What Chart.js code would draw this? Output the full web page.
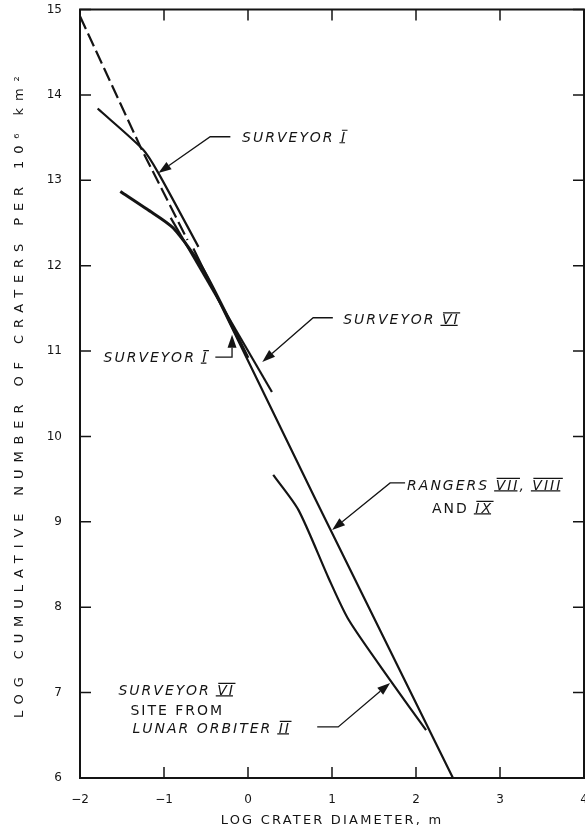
<!DOCTYPE html>
<html>
<head>
<meta charset="utf-8">
<script src="https://cdn.jsdelivr.net/npm/chart.js@4.4.1/dist/chart.umd.min.js"></script>
<style>
  html, body { margin: 0; padding: 0; background: #fff; }
  #wrap { width: 585px; height: 828px; }
</style>
</head>
<body>
<div id="wrap"><canvas id="crater-chart"></canvas></div>
<script>
// log crater diameter (m) against log cumulative number of craters per 10^6 km^2
var xTickLabels = ['\u22122', '\u22121', '0', '1', '2', '3', '4'];
var yTickLabels = ['6', '7', '8', '9', '10', '11', '12', '13', '14', '15'];

// dashed extrapolation at the top left
var dashX = [-2.0, -1.28, -0.72];
var dashY = [14.92, 13.39, 12.3];

// Surveyor I, upper curve
var surv1aX = [-1.79, -1.25, -1.07, -0.59];
var surv1aY = [13.84, 13.36, 13.09, 12.22];

// Surveyor I, lower (heavy) curve
var surv1bX = [-1.52, -1.2, -0.89, -0.53, 0.0];
var surv1bY = [12.87, 12.66, 12.44, 11.95, 10.92];

// Surveyor VI
var surv6X = [-0.92, 0.285];
var surv6Y = [12.56, 10.52];

// Rangers VII, VIII and IX
var rangerX = [-0.65, 0.8, 2.44];
var rangerY = [12.2, 9.27, 6.0];

// Surveyor VI site from Lunar Orbiter II
var orbiterX = [0.30, 0.60, 0.96, 1.20, 1.69, 2.12];
var orbiterY = [9.55, 9.14, 8.34, 7.85, 7.15, 6.56];

var FONT = '"DejaVu Sans", "Liberation Sans", sans-serif';
var INK = '#141414';

function pts(xs, ys) {
  return xs.map(function (v, i) { return { x: v, y: ys[i] }; });
}

// labels with leader arrows, in data units
// style: i = italic, u = upright, r = roman numeral (italic, barred)
var notes = [
  { lines: [{ x: -0.07, y: 13.51, parts: [['SURVEYOR ', 'i'], ['I', 'r']] }],
    leader: [[-0.21, 13.51], [-0.45, 13.51]], tip: [-1.067, 13.085] },
  { lines: [{ x: 1.133, y: 11.37, parts: [['SURVEYOR ', 'i'], ['VI', 'r']] }],
    leader: [[1.01, 11.39], [0.776, 11.39]], tip: [0.17, 10.872] },
  { lines: [{ x: -1.72, y: 10.93, parts: [['SURVEYOR ', 'i'], ['I', 'r']] }],
    leader: [[-0.389, 10.93], [-0.19, 10.93]], tip: [-0.19, 11.19] },
  { lines: [{ x: 1.894, y: 9.432, parts: [['RANGERS ', 'i'], ['VII', 'r'], [', ', 'i'], ['VIII', 'r']] },
            { x: 2.191, y: 9.163, parts: [['AND ', 'u'], ['IX', 'r']] }],
    leader: [[1.87, 9.456], [1.692, 9.456]], tip: [1.002, 8.905] },
  { lines: [{ x: -1.542, y: 7.032, parts: [['SURVEYOR ', 'i'], ['VI', 'r']] },
            { x: -1.40, y: 6.798, parts: [['SITE FROM', 'u']] },
            { x: -1.376, y: 6.587, parts: [['LUNAR ORBITER ', 'i'], ['II', 'r']] }],
    leader: [[0.824, 6.598], [1.074, 6.598]], tip: [1.692, 7.114] }
];

var titleSpacing = { x: '2.2px', y: '6.9px' };

// letter spacing for the axis titles only
var spacedTitles = {
  id: 'spacedTitles',
  beforeDraw: function (chart) {
    Object.keys(chart.scales).forEach(function (id) {
      var s = chart.scales[id];
      if (s._spaced) return;
      var orig = s.drawTitle;
      s.drawTitle = function () {
        var prev = this.ctx.letterSpacing;
        this.ctx.letterSpacing = titleSpacing[id] || '0px';
        orig.apply(this, arguments);
        this.ctx.letterSpacing = prev;
      };
      s._spaced = true;
    });
  }
};

// box frame with inward ticks on all four sides
var frameTicks = {
  id: 'frameTicks',
  beforeDatasetsDraw: function (chart) {
    var ctx = chart.ctx, a = chart.chartArea, x = chart.scales.x, y = chart.scales.y;
    var len = 11;
    ctx.save();
    ctx.strokeStyle = INK;
    ctx.lineWidth = 2;
    ctx.strokeRect(a.left, a.top, a.right - a.left, a.bottom - a.top);
    ctx.lineWidth = 1.5;
    ctx.beginPath();
    x.ticks.forEach(function (t) {
      var px = x.getPixelForValue(t.value);
      ctx.moveTo(px, a.bottom); ctx.lineTo(px, a.bottom - len);
      ctx.moveTo(px, a.top); ctx.lineTo(px, a.top + len);
    });
    y.ticks.forEach(function (t) {
      var py = y.getPixelForValue(t.value);
      ctx.moveTo(a.left, py); ctx.lineTo(a.left + len, py);
      ctx.moveTo(a.right, py); ctx.lineTo(a.right - len, py);
    });
    ctx.stroke();
    ctx.restore();
  }
};

function drawParts(ctx, parts, x0, yMid) {
  var x = x0;
  parts.forEach(function (p) {
    var txt = p[0], style = p[1];
    ctx.font = (style === 'u' ? '' : 'oblique ') + '14px ' + FONT;
    ctx.letterSpacing = '2px';
    ctx.textAlign = 'left';
    ctx.textBaseline = 'alphabetic';
    ctx.fillText(txt, x, yMid + 5);
    var w = ctx.measureText(txt).width;
    if (style === 'r') {
      ctx.lineWidth = 1.2;
      ctx.beginPath();
      ctx.moveTo(x - 1.5, yMid + 6); ctx.lineTo(x + w - 2, yMid + 6);
      ctx.moveTo(x + 1, yMid - 6.5); ctx.lineTo(x + w + 0.5, yMid - 6.5);
      ctx.stroke();
    }
    x += w;
  });
}

var callouts = {
  id: 'callouts',
  afterDatasetsDraw: function (chart) {
    var ctx = chart.ctx, xs = chart.scales.x, ys = chart.scales.y;
    ctx.save();
    ctx.fillStyle = INK;
    ctx.strokeStyle = INK;
    notes.forEach(function (n) {
      n.lines.forEach(function (l) {
        drawParts(ctx, l.parts, xs.getPixelForValue(l.x), ys.getPixelForValue(l.y));
      });
      var path = n.leader.map(function (p) { return [xs.getPixelForValue(p[0]), ys.getPixelForValue(p[1])]; });
      var tx = xs.getPixelForValue(n.tip[0]), ty = ys.getPixelForValue(n.tip[1]);
      var last = path[path.length - 1];
      var ang = Math.atan2(ty - last[1], tx - last[0]);
      var headLen = 13, half = 4.5;
      var bx = tx - Math.cos(ang) * headLen, by = ty - Math.sin(ang) * headLen;
      ctx.lineWidth = 1.3;
      ctx.beginPath();
      ctx.moveTo(path[0][0], path[0][1]);
      for (var i = 1; i < path.length; i++) ctx.lineTo(path[i][0], path[i][1]);
      ctx.lineTo(bx, by);
      ctx.stroke();
      ctx.beginPath();
      ctx.moveTo(tx, ty);
      ctx.lineTo(bx - Math.sin(ang) * half, by + Math.cos(ang) * half);
      ctx.lineTo(bx + Math.sin(ang) * half, by - Math.cos(ang) * half);
      ctx.closePath();
      ctx.fill();
    });
    ctx.restore();
  }
};

var lineStyle = { borderColor: INK, pointRadius: 0, fill: false, tension: 0.25, borderWidth: 2.2 };
function series(label, xs, ys, extra) {
  return Object.assign({ label: label, data: pts(xs, ys) }, lineStyle, extra || {});
}

new Chart(document.getElementById('crater-chart'), {
  type: 'line',
  data: {
    datasets: [
      series('Extrapolation', dashX, dashY, { borderDash: [14, 5], tension: 0 }),
      series('Surveyor I', surv1aX, surv1aY),
      series('Surveyor I (heavy)', surv1bX, surv1bY, { borderWidth: 3 }),
      series('Surveyor VI', surv6X, surv6Y),
      series('Rangers VII, VIII and IX', rangerX, rangerY, { tension: 0 }),
      series('Surveyor VI site from Lunar Orbiter II', orbiterX, orbiterY)
    ]
  },
  options: {
    responsive: true,
    maintainAspectRatio: false,
    animation: false,
    layout: { padding: { left: 0, right: 1, top: 9.5, bottom: 0 } },
    plugins: { legend: { display: false }, tooltip: { enabled: false } },
    scales: {
      x: {
        type: 'linear', min: -2, max: 4,
        grid: { display: false }, border: { display: false },
        ticks: {
          stepSize: 1, padding: 7, color: INK, maxRotation: 0,
          font: { family: FONT, size: 12 },
          callback: function (v, i) { return xTickLabels[i]; }
        },
        title: {
          display: true, text: 'LOG CRATER DIAMETER, m', color: INK,
          font: { family: FONT, size: 13 }, padding: { top: 12, bottom: 0 }
        },
        afterFit: function (s) { s.height = 50; s.paddingLeft = 0; s.paddingRight = 0; }
      },
      y: {
        type: 'linear', min: 6, max: 15,
        grid: { display: false }, border: { display: false },
        ticks: {
          stepSize: 1, padding: 10, color: INK,
          font: { family: FONT, size: 12 },
          callback: function (v, i) { return yTickLabels[i]; }
        },
        title: {
          display: true, text: 'LOG CUMULATIVE NUMBER OF CRATERS PER 10\u2076 km\u00b2', color: INK,
          font: { family: FONT, size: 13 }, padding: { top: 12, bottom: 0 }
        },
        afterFit: function (s) { s.width = 80; s.paddingTop = 0; s.paddingBottom = 0; }
      }
    }
  },
  plugins: [spacedTitles, frameTicks, callouts]
});
</script>
</body>
</html>
